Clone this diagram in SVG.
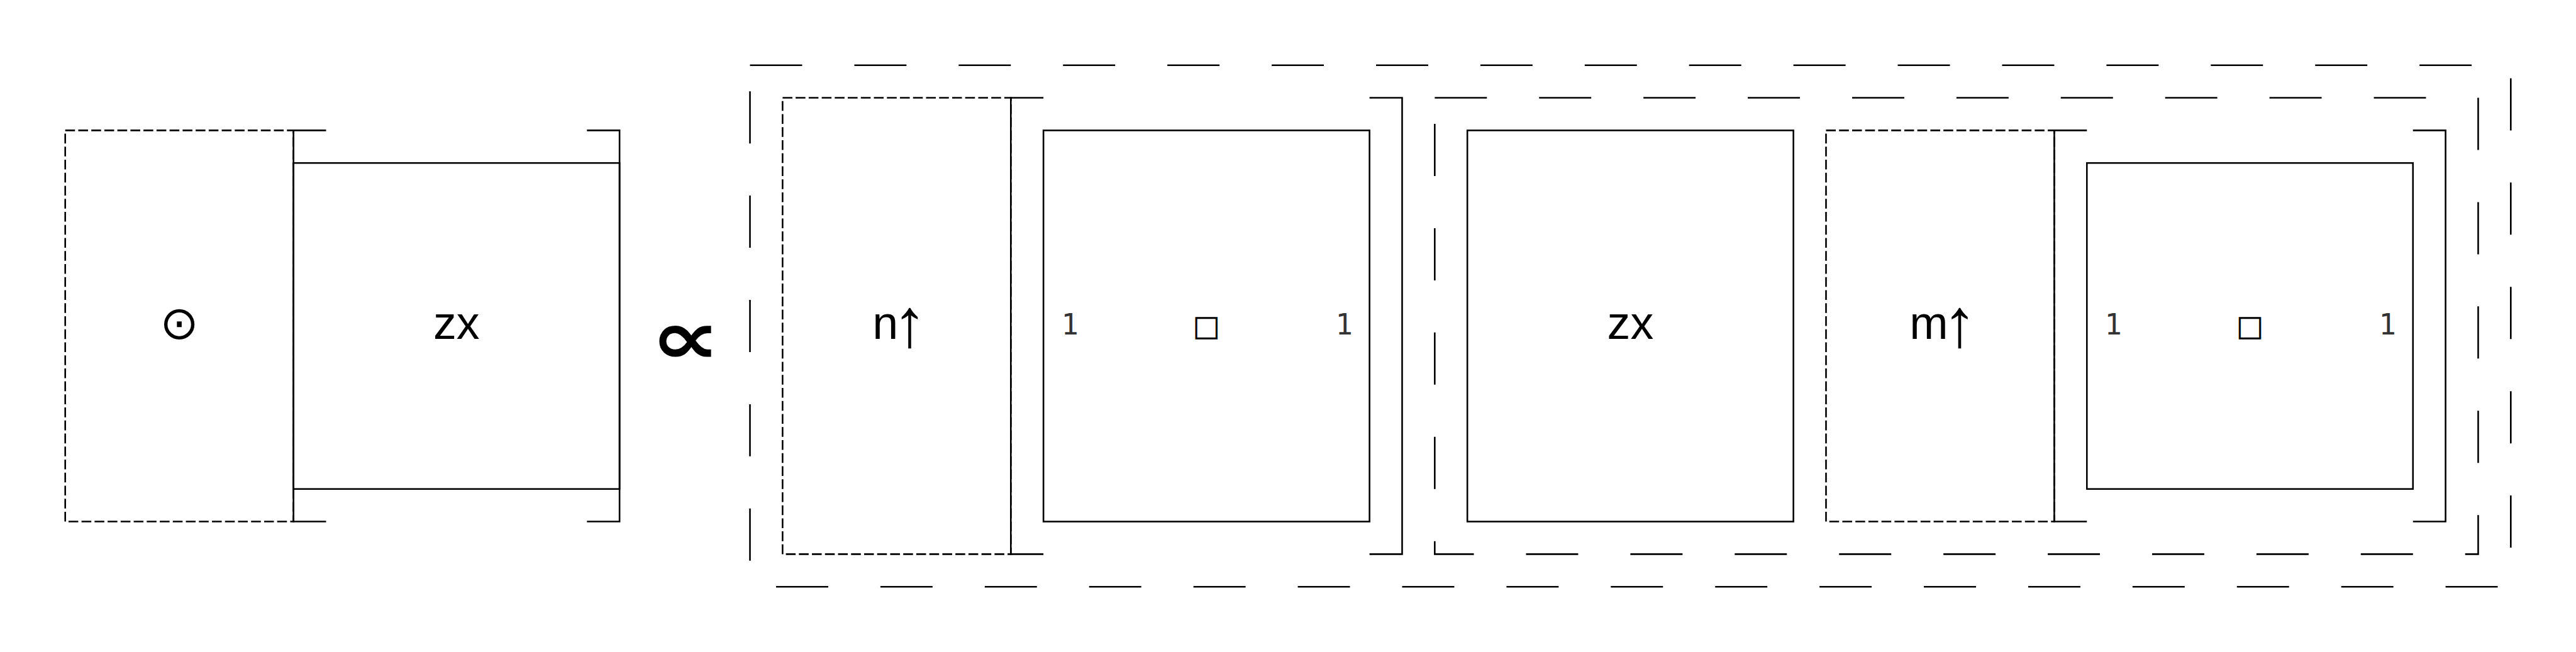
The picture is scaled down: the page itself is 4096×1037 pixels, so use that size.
<svg xmlns="http://www.w3.org/2000/svg" width="4096" height="1037" viewBox="0 0 4096 1037">
<style>
.s{fill:none;stroke:#000;stroke-width:5}
.d{fill:none;stroke:#000;stroke-width:5;stroke-dasharray:30 10}
.D{fill:none;stroke:#000;stroke-width:5;stroke-dasharray:160 160}
.t{font-family:"Liberation Sans",Arial,"DejaVu Sans",sans-serif;font-size:142px;text-anchor:middle;fill:#000}
.a{font-size:210px}
.o{font-family:"DejaVu Sans",sans-serif;font-size:142px;text-anchor:middle;fill:#000}
.q{font-family:"DejaVu Sans",sans-serif;font-size:88px;text-anchor:middle;fill:#000;stroke:#000;stroke-width:1}
.m{font-family:"DejaVu Sans Mono",monospace;font-size:88px;text-anchor:middle;fill:#333}
.p{font-family:"DejaVu Sans",sans-serif;font-size:229px;font-weight:bold;fill:#000}
</style>
<rect width="4096" height="1037" fill="#fff"/>
<g transform="scale(0.518481)">
  <g id="outer-group"><rect class="D" x="2300" y="200" width="5400" height="1600"/></g>
  <g id="inner-group"><rect class="D" x="4400" y="300" width="3200" height="1400"/></g>
  <g id="left-dot">
    <rect class="d" x="200" y="400" width="700" height="1200"/>
    <text class="o" x="550" y="1039">⊙</text>
  </g>
  <g id="left-zx">
    <path class="s" d="M1000,400H900V1600H1000M1800,400H1900V1600H1800"/>
    <rect class="s" x="900" y="500" width="1000" height="1000"/>
    <text class="t" x="1400" y="1039">zx</text>
  </g>
  <g id="propto"><text class="p" transform="translate(2100,0) scale(1.32,1)" x="-80" y="1114">∝</text></g>
  <g id="n-up">
    <rect class="d" x="2400" y="300" width="700" height="1400"/>
    <text class="t"><tspan x="2715" y="1039">n</tspan><tspan class="a" x="2790" y="1063">↑</tspan></text>
  </g>
  <g id="bracket-1">
    <path class="s" d="M3200,300H3100V1700H3200M4200,300H4300V1700H4200"/>
    <rect class="s" x="3200" y="400" width="1000" height="1200"/>
    <text class="m" x="3281" y="1027">1</text>
    <text class="q" x="3700" y="1029">□</text>
    <text class="m" x="4122" y="1027">1</text>
  </g>
  <g id="zx-2">
    <rect class="s" x="4500" y="400" width="1000" height="1200"/>
    <text class="t" x="5000" y="1039">zx</text>
  </g>
  <g id="m-up">
    <rect class="d" x="5600" y="400" width="700" height="1200"/>
    <text class="t"><tspan x="5915" y="1039">m</tspan><tspan class="a" x="6010" y="1063">↑</tspan></text>
  </g>
  <g id="bracket-2">
    <path class="s" d="M6400,400H6300V1600H6400M7400,400H7500V1600H7400"/>
    <rect class="s" x="6400" y="500" width="1000" height="1000"/>
    <text class="m" x="6481" y="1027">1</text>
    <text class="q" x="6900" y="1029">□</text>
    <text class="m" x="7322" y="1027">1</text>
  </g>
  <g id="connectors"/>
</g>
</svg>
